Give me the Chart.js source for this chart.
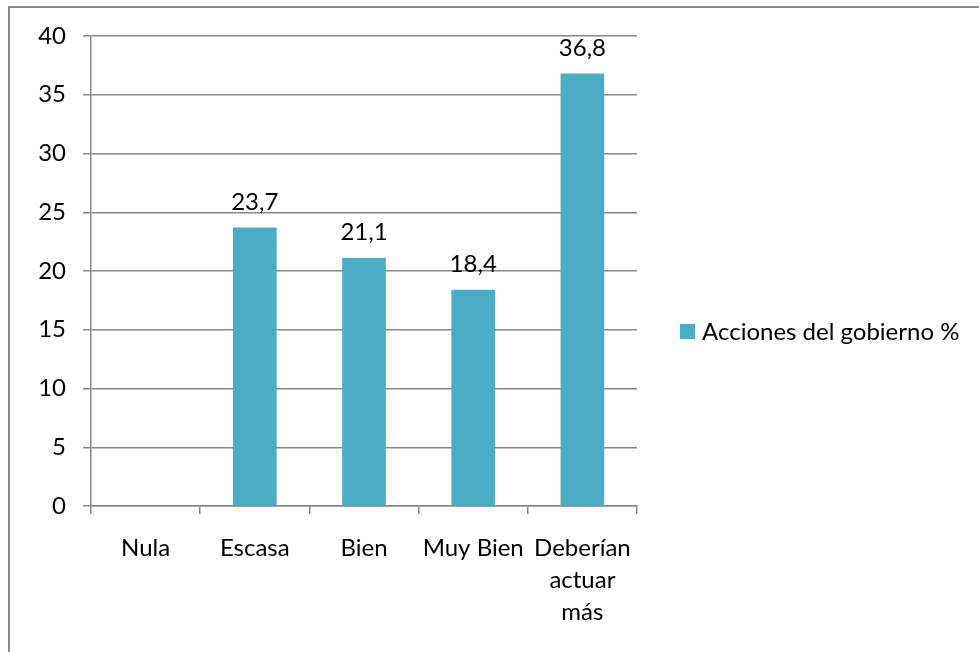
<!DOCTYPE html>
<html>
<head>
<meta charset="utf-8">
<script src="https://cdn.jsdelivr.net/npm/chart.js@4/dist/chart.umd.min.js"></script>
<style>
html,body{margin:0;padding:0;background:#fff;overflow:hidden;width:979px;height:652px;}
#frame{position:absolute;left:8px;top:6px;width:2000px;height:2000px;border-left:2px solid #8a8a8a;border-top:2px solid #8a8a8a;}
#wrap{position:absolute;left:0;top:0;width:979px;height:652px;}
</style>
</head>
<body>
<div id="frame"></div>
<div id="wrap"><canvas id="c" width="979" height="652"></canvas></div>
<script>
const categories = ['Nula', 'Escasa', 'Bien', 'Muy Bien', ['Deberían', 'actuar', 'más']];
const seriesName = 'Acciones del gobierno %';
const values = [null, 23.7, 21.1, 18.4, 36.8];
const yTicks = [0, 5, 10, 15, 20, 25, 30, 35, 40];

const FONT = 'Lato, "Noto Sans", sans-serif';
const FSIZE = 24;
const BAR = '#4BACC6';
const GRID = '#888888';

const labelPlugin = {
  id: 'valueLabels',
  afterDatasetsDraw(chart) {
    const ctx = chart.ctx;
    const meta = chart.getDatasetMeta(0);
    ctx.save();
    ctx.font = FSIZE + 'px ' + FONT;
    ctx.fillStyle = '#000';
    ctx.textAlign = 'center';
    ctx.textBaseline = 'alphabetic';
    meta.data.forEach((el, i) => {
      const v = values[i];
      if (v === null || v === undefined) return;
      ctx.fillText(String(v).replace('.', ','), el.x, el.y - 18);
    });
    ctx.restore();
  }
};

const legendPlugin = {
  id: 'sideLegend',
  afterDraw(chart) {
    const ctx = chart.ctx;
    ctx.save();
    ctx.fillStyle = BAR;
    ctx.fillRect(680, 324, 15, 15);
    ctx.fillStyle = '#000';
    ctx.font = FSIZE + 'px ' + FONT;
    ctx.textAlign = 'left';
    ctx.textBaseline = 'middle';
    ctx.fillText(seriesName, 702, 332);
    ctx.restore();
  }
};

new Chart(document.getElementById('c'), {
  type: 'bar',
  data: {
    labels: categories,
    datasets: [{
      label: seriesName,
      data: values,
      backgroundColor: BAR,
      borderWidth: 0,
      barPercentage: 0.4,
      categoryPercentage: 1.0
    }]
  },
  options: {
    responsive: false,
    animation: false,
    devicePixelRatio: 1,
    layout: { padding: { left: 0, top: 36, right: 342, bottom: 0 } },
    plugins: { legend: { display: false }, tooltip: { enabled: false } },
    scales: {
      x: {
        afterFit(s) { s.height = 146; },
        grid: { display: true, drawOnChartArea: false, drawTicks: true, tickLength: 8, color: GRID, lineWidth: 1.5, offset: true },
        border: { display: true, color: GRID, width: 1.5 },
        ticks: { color: '#000', font: { family: FONT, size: FSIZE, lineHeight: 1.33 }, padding: 18, maxRotation: 0, autoSkip: false }
      },
      y: {
        min: 0, max: 40,
        afterFit(s) { s.width = 91; },
        afterBuildTicks(s) { s.ticks = yTicks.map(v => ({ value: v })); },
        grid: { display: true, drawOnChartArea: true, drawTicks: true, tickLength: 8, color: GRID, lineWidth: 1.5 },
        border: { display: true, color: GRID, width: 1.5 },
        ticks: { color: '#000', font: { family: FONT, size: FSIZE }, padding: 17 }
      }
    }
  },
  plugins: [labelPlugin, legendPlugin]
});
</script>
</body>
</html>
